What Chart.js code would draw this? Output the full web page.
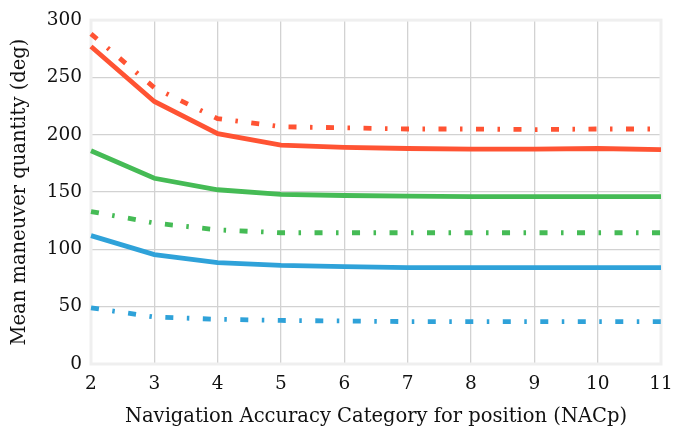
<!DOCTYPE html>
<html>
<head>
<meta charset="utf-8">
<script src="https://cdn.jsdelivr.net/npm/chart.js@4.4.0/dist/chart.umd.min.js"></script>
<style>
html,body{margin:0;padding:0;background:#fff;}
#wrap{width:689px;height:433px;}
</style>
</head>
<body>
<div id="wrap"><canvas id="c" width="689" height="433"></canvas></div>
<script>
const categories = ["2","3","4","5","6","7","8","9","10","11"];
const redSolid   = [277, 229, 201, 191, 189, 188, 187.5, 187.5, 188, 187];
const redDash    = [288, 241, 214, 207, 206, 205, 205, 204.5, 205, 205];
const greenSolid = [186, 162, 152, 148, 147, 146.5, 146, 146, 146, 146];
const greenDash  = [133, 123, 117, 114.5, 114.5, 114.5, 114.5, 114.5, 114.5, 114.5];
const blueSolid  = [112, 95.5, 88.5, 86, 85, 84, 84, 84, 84, 84];
const blueDash   = [49, 41, 39, 38, 37.5, 37, 37, 37, 37, 37];
const yTicks = [0, 50, 100, 150, 200, 250, 300];

const RED = '#ff5333', GREEN = '#45bb55', BLUE = '#2fa2d9';
const DASH = [8, 13.5, 2.5, 13.5];
const FONT = "'DejaVu Serif', 'Liberation Serif', serif";

function ds(data, color, dashed){
  return {data, borderColor: color, backgroundColor: color, borderWidth: 4.8,
    borderDash: dashed ? DASH : [], borderCapStyle: 'butt', pointRadius: 0, tension: 0, fill: false};
}

const borderPlugin = {
  id: 'frame',
  beforeDatasetsDraw(chart){
    const {ctx, chartArea: a} = chart;
    ctx.save();
    ctx.strokeStyle = '#efefef';
    ctx.lineWidth = 3;
    ctx.strokeRect(a.left, a.top, a.right - a.left, a.bottom - a.top);
    ctx.restore();
  }
};

new Chart(document.getElementById('c'), {
  type: 'line',
  data: {
    labels: categories,
    datasets: [
      ds(redSolid, RED, false), ds(redDash, RED, true),
      ds(greenSolid, GREEN, false), ds(greenDash, GREEN, true),
      ds(blueSolid, BLUE, false), ds(blueDash, BLUE, true)
    ]
  },
  options: {
    responsive: false,
    animation: false,
    layout: {padding: {left: 0, right: 28, top: 15, bottom: 0}},
    plugins: {legend: {display: false}, tooltip: {enabled: false}},
    scales: {
      x: {
        type: 'category', offset: false,
        grid: {color: '#d2d2d2', lineWidth: 1.3, drawTicks: false},
        border: {display: false},
        ticks: {color: '#111', font: {family: FONT, size: 18.5}, padding: 9, maxRotation: 0},
        title: {display: true, text: 'Navigation Accuracy Category for position (NACp)',
          color: '#111', font: {family: FONT, size: 19.5}, padding: {top: 6, bottom: 4}},
        afterFit(s){ s.height = 69; }
      },
      y: {
        min: 0, max: 300,
        afterBuildTicks(s){ s.ticks = yTicks.map(v => ({value: v})); },
        grid: {color: '#d2d2d2', lineWidth: 1.3, drawTicks: false},
        border: {display: false},
        ticks: {color: '#111', font: {family: FONT, size: 18.5}, padding: 9},
        title: {display: true, text: 'Mean maneuver quantity (deg)',
          color: '#111', font: {family: FONT, size: 19.5}, padding: {top: 8, bottom: 6}},
        afterFit(s){ s.width = 91; }
      }
    }
  },
  plugins: [borderPlugin]
});
</script>
</body>
</html>
